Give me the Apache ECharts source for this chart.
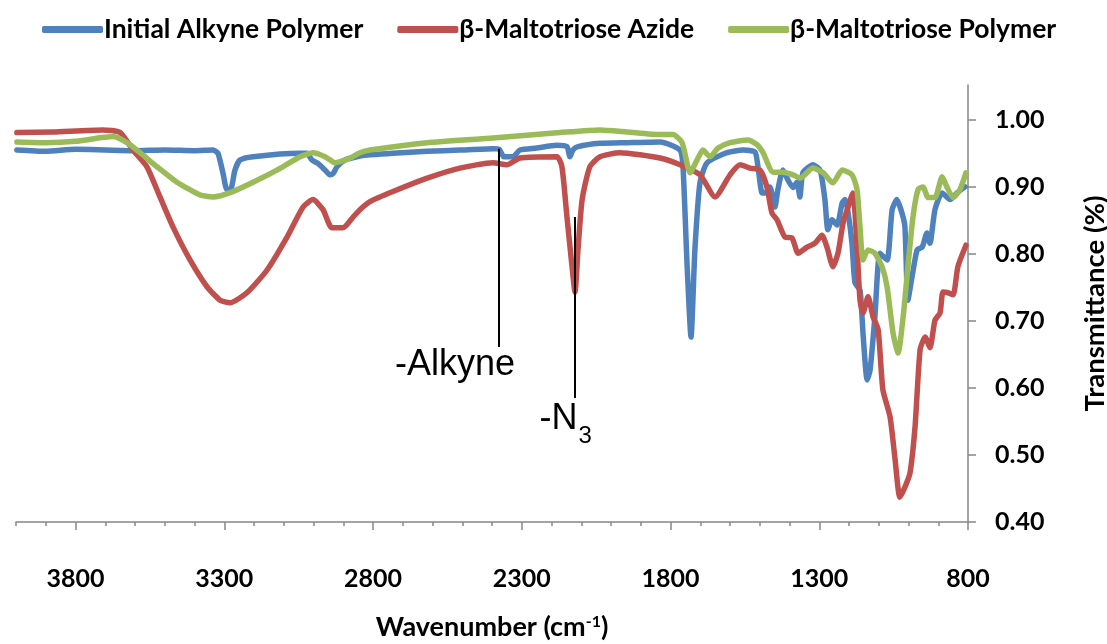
<!DOCTYPE html>
<html>
<head>
<meta charset="utf-8">
<script src="https://cdn.jsdelivr.net/npm/echarts@6/dist/echarts.min.js"></script>
<style>
  html, body { margin: 0; padding: 0; background: #fff; }
  #container { width: 1107px; height: 644px; }
</style>
</head>
<body>
<div id="container"></div>
<script>
var seriesNames = ['Initial Alkyne Polymer', 'β-Maltotriose Azide', 'β-Maltotriose Polymer'];
var seriesColors = ['#4F81BD', '#C0504D', '#9BBB59'];

// [wavenumber, transmittance]
var alkynePolymer = [
    [3997,0.955],[3900,0.953],[3800,0.956],[3700,0.955],[3600,0.954],[3500,0.955],[3400,0.954],
    [3338,0.955],[3321,0.950],[3304,0.920],[3291,0.896],[3277,0.897],[3264,0.925],[3247,0.940],
    [3203,0.945],[3045,0.950],[3022,0.950],[3005,0.940],[2985,0.935],[2961,0.925],[2945,0.918],
    [2934,0.920],[2921,0.930],[2894,0.940],[2844,0.946],[2810,0.948],[2733,0.950],[2618,0.953],
    [2508,0.955],[2397,0.957],[2376,0.956],[2360,0.945],[2330,0.945],[2306,0.955],[2250,0.958],
    [2182,0.962],[2148,0.960],[2138,0.945],[2128,0.955],[2111,0.960],[2037,0.965],[1946,0.966],
    [1835,0.967],[1768,0.955],[1758,0.930],[1744,0.781],[1731,0.676],[1718,0.806],[1701,0.906],
    [1677,0.936],[1610,0.951],[1556,0.955],[1516,0.952],[1506,0.930],[1492,0.891],[1482,0.891],
    [1466,0.900],[1449,0.870],[1439,0.896],[1422,0.925],[1405,0.910],[1388,0.899],[1375,0.907],
    [1365,0.885],[1355,0.921],[1321,0.933],[1297,0.925],[1281,0.881],[1271,0.836],[1257,0.851],
    [1240,0.843],[1223,0.876],[1213,0.881],[1203,0.861],[1190,0.816],[1180,0.757],[1163,0.746],
    [1153,0.682],[1139,0.612],[1129,0.627],[1113,0.706],[1096,0.801],[1072,0.791],[1055,0.866],
    [1039,0.881],[1022,0.861],[1012,0.840],[1002,0.731],[988,0.766],[971,0.806],[954,0.810],
    [938,0.831],[928,0.816],[911,0.866],[887,0.891],[860,0.881],[837,0.891],[810,0.900]
];
var maltotrioseAzide = [
    [3997,0.981],[3876,0.982],[3708,0.985],[3650,0.981],[3607,0.955],[3560,0.930],[3516,0.885],
    [3472,0.840],[3415,0.791],[3358,0.751],[3314,0.731],[3281,0.727],[3224,0.742],[3156,0.776],
    [3089,0.825],[3035,0.870],[3002,0.881],[2968,0.866],[2938,0.839],[2901,0.839],[2867,0.855],
    [2844,0.866],[2810,0.878],[2733,0.893],[2618,0.913],[2508,0.928],[2397,0.936],[2350,0.933],
    [2306,0.943],[2182,0.945],[2165,0.930],[2148,0.855],[2131,0.781],[2121,0.743],[2111,0.806],
    [2097,0.881],[2071,0.930],[2037,0.945],[1970,0.951],[1835,0.943],[1768,0.933],[1701,0.918],
    [1650,0.885],[1600,0.918],[1566,0.933],[1533,0.928],[1499,0.925],[1476,0.900],[1459,0.861],
    [1442,0.851],[1415,0.825],[1392,0.824],[1371,0.801],[1341,0.810],[1314,0.816],[1291,0.828],
    [1274,0.810],[1254,0.781],[1237,0.801],[1220,0.846],[1203,0.870],[1187,0.891],[1173,0.810],
    [1163,0.731],[1153,0.712],[1136,0.736],[1119,0.706],[1102,0.687],[1086,0.597],[1062,0.557],
    [1045,0.493],[1029,0.437],[1012,0.452],[995,0.473],[978,0.542],[961,0.657],[944,0.676],
    [928,0.660],[911,0.701],[894,0.712],[884,0.743],[867,0.742],[850,0.739],[834,0.781],[807,0.813]
];
var maltotriosePolymer = [
    [3997,0.967],[3900,0.966],[3800,0.968],[3674,0.975],[3627,0.966],[3583,0.951],[3526,0.930],
    [3459,0.907],[3381,0.888],[3338,0.885],[3271,0.893],[3203,0.907],[3123,0.925],[3045,0.945],
    [3002,0.951],[2961,0.945],[2928,0.936],[2877,0.943],[2844,0.951],[2810,0.955],[2618,0.966],
    [2397,0.973],[2171,0.981],[2037,0.985],[1946,0.982],[1835,0.978],[1792,0.978],[1761,0.966],
    [1734,0.921],[1711,0.940],[1691,0.955],[1667,0.945],[1640,0.958],[1600,0.966],[1539,0.970],
    [1509,0.963],[1489,0.951],[1455,0.922],[1422,0.922],[1388,0.918],[1365,0.913],[1321,0.928],
    [1287,0.921],[1254,0.906],[1223,0.925],[1190,0.918],[1173,0.896],[1163,0.840],[1153,0.791],
    [1136,0.806],[1113,0.801],[1089,0.781],[1072,0.751],[1052,0.682],[1035,0.652],[1018,0.706],
    [1002,0.781],[985,0.855],[968,0.896],[951,0.900],[934,0.884],[911,0.884],[887,0.915],
    [871,0.900],[850,0.884],[827,0.896],[807,0.921]
];

var xLabelValues = [800, 1300, 1800, 2300, 2800, 3300, 3800];
var xTickValues = [800,900,1000,1100,1200,1300,1400,1500,1600,1700,1800,1900,2000,2100,2200,2300,
    2400,2500,2600,2700,2800,2900,3000,3100,3200,3300,3400,3500,3600,3700,3800,3900,4000];
var yLabelValues = [0.4, 0.5, 0.6, 0.7, 0.8, 0.9, 1.0];

// annotation: [wavenumber, top, bottom], text at [wavenumber, value]
var alkyneLine = [2376, 0.957, 0.661];
var alkyneText = [2524, 0.634];
var azideLine = [2121, 0.855, 0.585];
var azideText = [2152, 0.545];

var dom = document.getElementById('container');
var myChart = echarts.init(dom);
var font = 'Lato';

function makeSeries(i, data) {
    return {
        name: seriesNames[i],
        type: 'line',
        data: data,
        showSymbol: false,
        smooth: 0.2,
        color: seriesColors[i],
        lineStyle: { width: 5.5, color: seriesColors[i], cap: 'round', join: 'round' }
    };
}

var series = [
    makeSeries(0, alkynePolymer),
    makeSeries(1, maltotrioseAzide),
    makeSeries(2, maltotriosePolymer)
];
series[2].markLine = {
    silent: true,
    symbol: 'none',
    label: { show: false },
    lineStyle: { color: '#000', width: 2, type: 'solid' },
    data: [
        [{ coord: [alkyneLine[0], alkyneLine[1]] }, { coord: [alkyneLine[0], alkyneLine[2]] }],
        [{ coord: [azideLine[0], azideLine[1]] }, { coord: [azideLine[0], azideLine[2]] }]
    ]
};
series[2].markPoint = {
    silent: true,
    symbol: 'circle',
    symbolSize: 0,
    label: {
        show: true,
        position: 'inside',
        color: '#000',
        fontFamily: 'Liberation Sans',
        fontSize: 36,
        formatter: function (p) { return p.name; },
        rich: {
            sub: { fontFamily: 'Liberation Sans', fontSize: 24, color: '#000', padding: [24, 0, 0, 1], verticalAlign: 'top' },
            n: { fontFamily: 'Liberation Sans', fontSize: 36, color: '#000', lineHeight: 44, verticalAlign: 'top' }
        }
    },
    data: [
        { name: '-Alkyne', coord: alkyneText },
        { name: '{n|-N}{sub|3}', coord: azideText }
    ]
};

option = {
    animation: false,
    backgroundColor: '#fff',
    textStyle: { fontFamily: font },
    legend: {
        left: 37,
        top: 11,
        itemWidth: 61,
        itemHeight: 7,
        itemGap: 34,
        icon: 'roundRect',
        textStyle: { fontFamily: font, fontSize: 26.5, fontWeight: 'bold', color: '#000', padding: [0, 0, 0, -4] },
        data: seriesNames
    },
    grid: { left: 16, right: 139, top: 85, bottom: 122, containLabel: false, outerBoundsMode: 'none' },
    xAxis: [{
        type: 'value',
        inverse: true,
        min: 800,
        max: 4000,
        splitLine: { show: false },
        axisLine: { lineStyle: { color: '#868686', width: 1.5 } },
        axisTick: { customValues: xTickValues, length: 4, lineStyle: { color: '#868686', width: 1.5 } },
        axisLabel: {
            customValues: xLabelValues,
            margin: 44,
            color: '#000',
            fontFamily: font,
            fontSize: 25,
            fontWeight: 'bold',
            formatter: function (v) { return String(v); }
        },
        name: '{b|Wavenumber (cm}{sup|-1}{b|)}',
        nameLocation: 'middle',
        nameGap: 92,
        nameTextStyle: {
            rich: {
                b: { fontFamily: font, fontSize: 27, fontWeight: 'bold', color: '#000', lineHeight: 30, verticalAlign: 'top' },
                sup: { fontFamily: font, fontSize: 16, fontWeight: 'bold', color: '#000', lineHeight: 16, verticalAlign: 'top' }
            }
        }
    }, {
        type: 'value',
        inverse: true,
        min: 800,
        max: 4000,
        position: 'bottom',
        splitLine: { show: false },
        axisLine: { show: false },
        axisTick: { customValues: xLabelValues, length: 8, lineStyle: { color: '#868686', width: 1.5 } },
        axisLabel: { show: false }
    }],
    yAxis: {
        type: 'value',
        position: 'right',
        min: 0.4,
        max: 1.052,
        splitLine: { show: false },
        axisLine: { show: true, lineStyle: { color: '#868686', width: 1.5 } },
        axisTick: { show: true, customValues: yLabelValues, length: 8, lineStyle: { color: '#868686', width: 1.5 } },
        axisLabel: {
            customValues: yLabelValues,
            margin: 27,
            color: '#000',
            fontFamily: font,
            fontSize: 25,
            fontWeight: 'bold',
            formatter: function (v) { return v.toFixed(2); }
        },
        name: 'Transmittance (%)',
        nameLocation: 'middle',
        nameRotate: 90,
        nameGap: 113,
        nameTextStyle: { fontFamily: font, fontSize: 27.5, fontWeight: 'bold', color: '#000' }
    },
    series: series
};

if (option && typeof option === 'object') {
    myChart.setOption(option, true);
}
</script>
</body>
</html>
